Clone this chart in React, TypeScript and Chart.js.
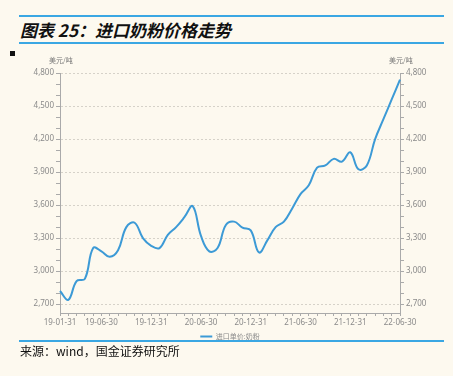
import React, { useEffect, useRef } from 'react';
import { Chart, registerables } from 'chart.js';

Chart.register(...registerables);

const categories = [
  '19-01-31', '19-02-28', '19-03-31', '19-04-30', '19-05-31', '19-06-30',
  '19-07-31', '19-08-31', '19-09-30', '19-10-31', '19-11-30', '19-12-31',
  '20-01-31', '20-02-29', '20-03-31', '20-04-30', '20-05-31', '20-06-30',
  '20-07-31', '20-08-31', '20-09-30', '20-10-31', '20-11-30', '20-12-31',
  '21-01-31', '21-02-28', '21-03-31', '21-04-30', '21-05-31', '21-06-30',
  '21-07-31', '21-08-31', '21-09-30', '21-10-31', '21-11-30', '21-12-31',
  '22-01-31', '22-02-28', '22-03-31', '22-04-30', '22-05-31', '22-06-30',
];

const importMilkPowderPrice = [
  2820, 2740, 2910, 2930, 3210, 3180, 3130, 3190, 3400, 3440, 3300, 3230,
  3210, 3330, 3400, 3490, 3590, 3320, 3180, 3210, 3420, 3450, 3395, 3370,
  3170, 3280, 3400, 3450, 3570, 3700, 3780, 3940, 3960, 4020, 3995, 4080,
  3925, 3960, 4200, 4380, 4560, 4740,
];

const yTickValues = [
  2700, 2800, 2900, 3000, 3100, 3200, 3300, 3400, 3500, 3600, 3700,
  3800, 3900, 4000, 4100, 4200, 4300, 4400, 4500, 4600, 4700, 4800,
];
const yLabelValues = [2700, 3000, 3300, 3600, 3900, 4200, 4500, 4800];
const xLabelIndices = [0, 5, 11, 17, 23, 29, 35, 41];

const seriesName = '进口单价:奶粉';
const unitText = '美元/吨';
const titleText = '图表 25：进口奶粉价格走势';
const sourceText = '来源：wind，国金证券研究所';

const BG = '#fdf9ef';
const LINE = '#3c9ad6';
const TICK_FONT = { family: "'Noto Sans', 'Noto Sans CJK SC', sans-serif", size: 8 };

export default function App() {
  const ref = useRef<HTMLCanvasElement | null>(null);

  useEffect(() => {
    if (!ref.current) return;
    const yTicks = {
      color: '#8a8a8a',
      font: TICK_FONT,
      padding: 2,
      autoSkip: false,
      callback: (v: any) => (yLabelValues.includes(Number(v)) ? Number(v).toLocaleString('en-US') : ''),
    };
    const setTicks = (scale: any) => {
      scale.ticks = yTickValues.map((v) => ({ value: v }));
    };
    const chart = new Chart(ref.current, {
      type: 'line',
      data: {
        labels: categories,
        datasets: [
          {
            label: seriesName,
            data: importMilkPowderPrice,
            borderColor: LINE,
            backgroundColor: LINE,
            borderWidth: 2,
            pointRadius: 0,
            tension: 0.4,
            yAxisID: 'y',
          },
        ],
      },
      options: {
        responsive: false,
        animation: false,
        layout: { padding: { left: 20, right: 13, top: 73, bottom: 26 } },
        plugins: {
          tooltip: { enabled: false },
          legend: {
            position: 'bottom',
            labels: {
              usePointStyle: true,
              pointStyle: 'line',
              pointStyleWidth: 12,
              boxWidth: 12,
              boxHeight: 7,
              padding: 4,
              color: '#8a8a8a',
              font: { family: "'Noto Sans CJK SC', sans-serif", size: 7 },
            },
          },
        },
        scales: {
          x: {
            type: 'category',
            offset: false,
            afterFit: (s: any) => { s.height = 16; },
            grid: {
              drawOnChartArea: false,
              drawTicks: true,
              tickLength: 3,
              tickColor: '#aaa',
            },
            border: { color: '#aaa', width: 1 },
            ticks: {
              color: '#8a8a8a',
              font: TICK_FONT,
              autoSkip: false,
              maxRotation: 0,
              minRotation: 0,
              padding: 2,
              callback: (_v: any, i: number) => (xLabelIndices.includes(i) ? categories[i] : ''),
            },
          },
          y: {
            type: 'linear',
            position: 'left',
            min: 2620,
            max: 4800,
            afterBuildTicks: setTicks,
            afterFit: (s: any) => { s.width = 40; },
            grid: {
              color: (c: any) => (c.tick && yLabelValues.includes(c.tick.value) ? '#d6d2c9' : 'rgba(0,0,0,0)'),
              tickColor: '#aaa',
              tickLength: 4,
            },
            border: { color: '#aaa', width: 1, dash: [2, 2] },
            ticks: yTicks,
          },
          y2: {
            type: 'linear',
            position: 'right',
            min: 2620,
            max: 4800,
            afterBuildTicks: setTicks,
            afterFit: (s: any) => { s.width = 40; },
            grid: { drawOnChartArea: false, tickColor: '#aaa', tickLength: 4 },
            border: { color: '#aaa', width: 1 },
            ticks: yTicks,
          },
        },
      },
    } as any);
    return () => chart.destroy();
  }, []);

  const cjk = "'Noto Sans CJK SC', sans-serif";
  return (
    <div style={{ position: 'fixed', left: 0, top: 0, width: 453, height: 376, background: BG, overflow: 'hidden' }}>
      <div style={{ position: 'absolute', left: 19, top: 15, width: 425, height: 2, background: '#3aa7e3' }} />
      <div style={{ position: 'absolute', left: 20, top: 17, fontFamily: cjk, fontSize: 17, fontWeight: 700, fontStyle: 'italic', color: '#111', lineHeight: '25px', whiteSpace: 'nowrap' }}>{titleText}</div>
      <div style={{ position: 'absolute', left: 19, top: 42, width: 425, height: 2, background: '#3aa7e3' }} />
      <div style={{ position: 'absolute', left: 10, top: 51, width: 5, height: 5, background: '#111' }} />
      <canvas ref={ref} width={453} height={376} style={{ position: 'absolute', left: 0, top: 0, width: 453, height: 376 }} />
      <div style={{ position: 'absolute', left: 49, top: 55, fontFamily: cjk, fontSize: 7, color: '#777', whiteSpace: 'nowrap' }}>{unitText}</div>
      <div style={{ position: 'absolute', left: 389, top: 55, fontFamily: cjk, fontSize: 7, color: '#777', whiteSpace: 'nowrap' }}>{unitText}</div>
      <div style={{ position: 'absolute', left: 19, top: 340, width: 425, height: 2, background: '#3aa7e3' }} />
      <div style={{ position: 'absolute', left: 20, top: 342, fontFamily: cjk, fontSize: 12, color: '#111', lineHeight: '18px', whiteSpace: 'nowrap' }}>{sourceText}</div>
    </div>
  );
}
